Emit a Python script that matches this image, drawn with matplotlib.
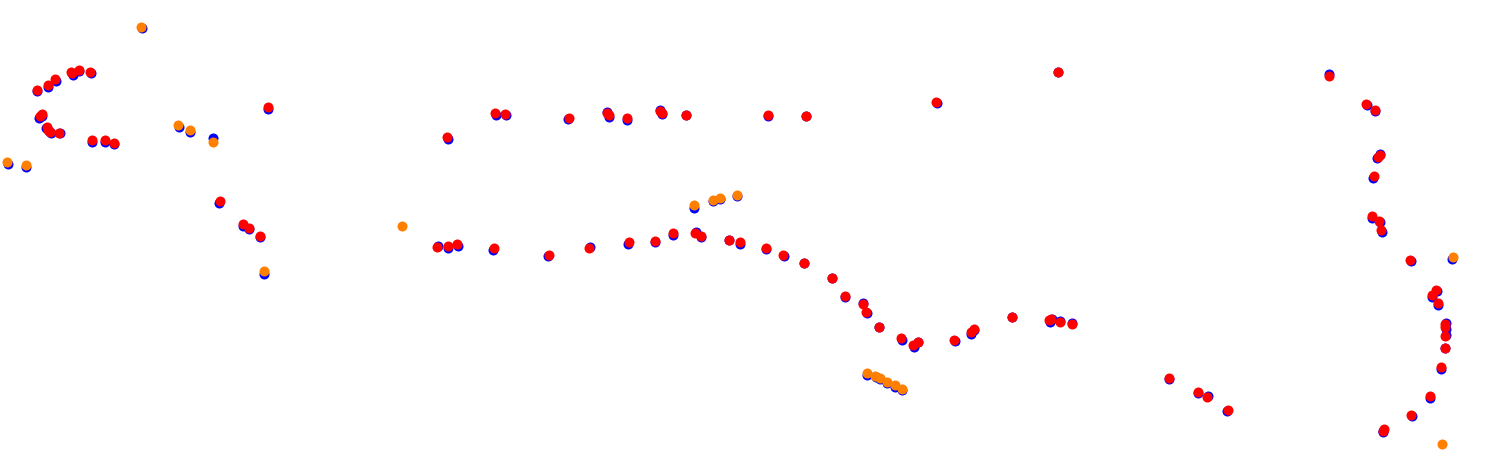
import matplotlib
matplotlib.use('Agg')
import matplotlib.pyplot as plt
import numpy as np

# Point positions (x, y in image units, y grows downward)
red_pts = [
    (36.7, 91), (47.7, 86), (55, 80), (71, 72.7), (72, 74), (79, 70.7), (90, 73),
    (267.7, 108), (40, 117), (41.7, 115.3), (46.7, 127.7), (48.3, 130.7), (50, 133.3),
    (59, 134.3), (92, 141), (104.7, 141), (113.7, 144), (220, 202.3), (243, 225.3),
    (248.7, 229.3), (259.7, 237),
    (447, 137.7), (495.3, 113.7), (505.3, 115), (569, 118.7), (607, 114.3),
    (608.7, 116), (627, 119), (660, 112), (662, 113.7), (686, 116.3), (767.7, 116),
    (805.7, 116.7),
    (437.3, 247.7), (448.3, 247), (457, 245), (493.7, 249), (549, 255.7),
    (589.3, 248.7), (628.7, 243.3), (655.3, 241.7), (673.3, 233.7), (695, 234.3),
    (700.7, 236.7), (728.7, 240.7), (740.3, 242.7), (766, 248.7), (783.3, 255.7),
    (803.7, 263.7),
    (1057.7, 72.7), (936.3, 102.7), (831.7, 279.3), (845.3, 296.7), (863, 305.3),
    (866.3, 312.7), (878.7, 327.7), (900.7, 339), (913.3, 345.7), (917.7, 342.7),
    (954.3, 340.7), (971.3, 332.7), (973.7, 330.3), (1011.7, 317.7), (1049.3, 321),
    (1051, 320), (1059.7, 323.3), (1072, 325.3),
    (1329, 76.7), (1366, 104.7), (1374.7, 110.7), (1379.7, 155.7), (1378, 158),
    (1374, 177.3), (1371.7, 217.3), (1379.3, 222), (1381, 231.3), (1410, 261),
    (1436.3, 291), (1432.3, 296), (1437.7, 304), (1445.3, 325), (1445.3, 328.3),
    (1444.7, 336.7), (1444.7, 349.3), (1440.7, 368), (1429.7, 397), (1411.3, 415.7),
    (1384, 430), (1382.5, 431.5),
    (1169, 379), (1198, 393.3), (1207, 398.3), (1228, 410.7),
]

orange_pts = [
    (141, 28), (7.3, 163), (25.7, 166), (178, 125.7), (189.7, 131), (212.7, 142.7),
    (263.7, 272), (401.7, 226.7), (693.7, 206), (712.7, 200.7), (720, 198.7),
    (736.7, 195.7), (867, 373.7), (875.3, 377.3), (880, 379.3), (886.7, 382.7),
    (895.3, 385.7), (902.3, 389.7), (1452.7, 257.7), (1441.7, 444.7),
]

blue_pts = [
    (37.3, 91.8), (47.5, 87.5), (55.7, 81.7), (71.7, 74.3), (72.5, 75.5), (79, 71.5),
    (91, 74), (267.5, 110), (39.3, 118.5), (42, 116.5), (46.3, 129), (49, 132),
    (50.5, 134), (59.7, 133.7), (92, 142.5), (104.7, 142.5), (114, 145.3),
    (219, 203.5), (242.7, 226.5), (248.5, 230), (259.5, 238.3),
    (447.7, 139.5), (495.7, 115.5), (505.5, 116), (568.3, 120), (607, 113),
    (609.3, 117.5), (627, 120.5), (660, 111), (662.3, 115), (686, 115.7),
    (767.7, 117.3), (805.7, 117.3),
    (437.7, 246.5), (447.7, 248.5), (457.5, 246.5), (493.3, 250.5), (548.3, 256.7),
    (590.3, 247.5), (628.3, 245), (655, 243), (673.3, 235.5), (695.7, 233),
    (701, 238), (728.7, 241), (740.3, 244.5), (766, 249.7), (783.7, 257),
    (803.7, 264.3),
    (1057.7, 73), (937.3, 104), (831.7, 278.5), (845.3, 297.7), (862.7, 303.7),
    (867, 314), (878.7, 328.3), (901.5, 341), (913.7, 348), (918, 343.3),
    (954.7, 342), (971, 335), (973.7, 331.3), (1011.7, 318), (1050, 322.5),
    (1052, 319.5), (1060, 322), (1072.3, 324),
    (1329.3, 75), (1366.7, 105.7), (1375, 112), (1380.3, 155.3), (1377.3, 159.3),
    (1373.3, 178.5), (1371.7, 218.5), (1379.5, 222.5), (1382, 232.5), (1410.5, 262),
    (1437, 292), (1431.7, 297.5), (1437.7, 305.5), (1446, 323.7), (1446, 329.7),
    (1445.5, 335.7), (1444.7, 348.5), (1441, 369.5), (1429.5, 398.5), (1411.7, 416.7),
    (1383.3, 431.5), (1382.5, 432.5),
    (1169, 380.3), (1198.3, 394), (1208, 397.3), (1227.3, 412),
    (141.7, 29.3), (7.7, 165), (25.7, 168), (178.7, 127.7), (189.7, 133),
    (212.7, 139.3), (263.7, 274.5), (693.7, 208.5), (712.7, 201.5), (719.5, 200.3),
    (736.7, 197), (867.3, 375.7), (875.7, 377.7), (880.3, 380.3), (886.7, 384.3),
    (895.3, 387.7), (902, 391.3), (1451.7, 259.5),
]

fig = plt.figure(figsize=(14.86, 4.77), dpi=100)
ax = fig.add_axes([0, 0, 1, 1])

size = 52
for pts, colour in [(blue_pts, '#0000ff'), (orange_pts, '#ff8000'), (red_pts, '#ff0000')]:
    arr = np.array(pts)
    ax.scatter(arr[:, 0], arr[:, 1], s=size, c=colour, linewidths=0)

ax.set_xlim(0, 1486)
ax.set_ylim(477, 0)
ax.axis('off')

fig.savefig('out.png', dpi=100, facecolor='white')
